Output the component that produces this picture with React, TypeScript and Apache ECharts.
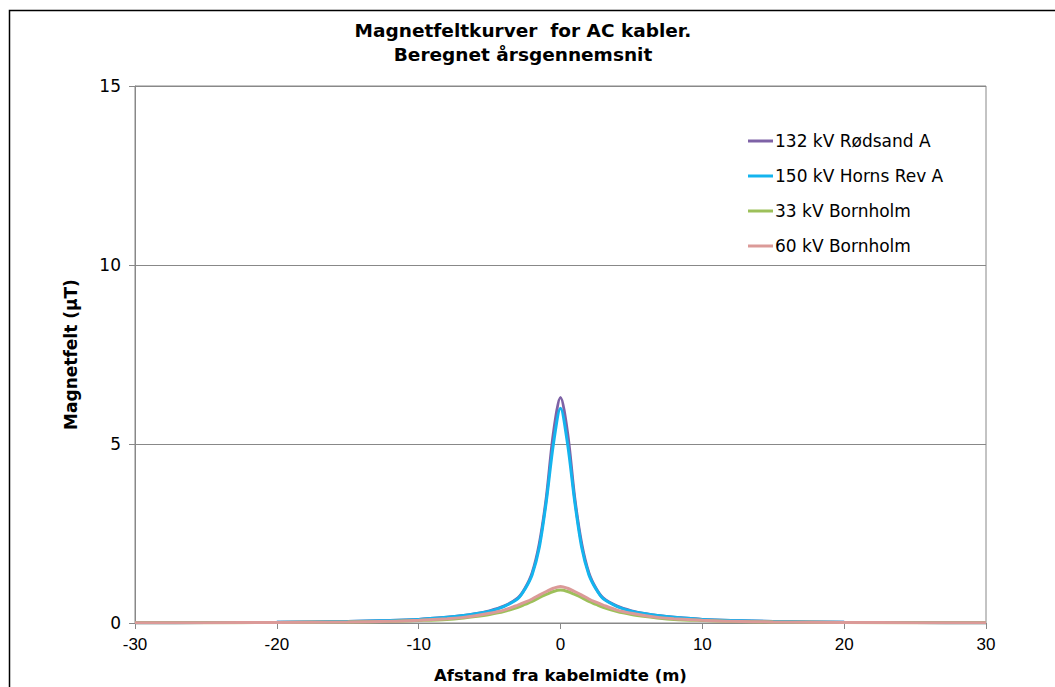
import React, { useEffect, useRef } from "react";
import * as echarts from "echarts";

const distances = [-30, -25, -20, -15, -12, -10, -8, -7, -6, -5, -4, -3, -2.5, -2, -1.5, -1, -0.5, 0, 0.5, 1, 1.5, 2, 2.5, 3, 4, 5, 6, 7, 8, 10, 12, 15, 20, 25, 30];

const rodsand132 = [0.008, 0.012, 0.02, 0.045, 0.07, 0.1, 0.16, 0.2, 0.26, 0.34, 0.47, 0.7, 0.97, 1.4, 2.2, 3.5, 5.3, 6.3, 5.3, 3.5, 2.2, 1.4, 0.97, 0.7, 0.47, 0.34, 0.26, 0.2, 0.16, 0.1, 0.07, 0.045, 0.02, 0.012, 0.008];
const hornsRev150 = [0.008, 0.012, 0.02, 0.045, 0.07, 0.1, 0.16, 0.2, 0.26, 0.33, 0.46, 0.68, 0.95, 1.35, 2.1, 3.4, 5.0, 6.0, 5.0, 3.4, 2.1, 1.35, 0.95, 0.68, 0.46, 0.33, 0.26, 0.2, 0.16, 0.1, 0.07, 0.045, 0.02, 0.012, 0.008];
const bornholm33 = [0.005, 0.008, 0.014, 0.028, 0.045, 0.07, 0.1, 0.13, 0.18, 0.24, 0.32, 0.44, 0.52, 0.6, 0.71, 0.8, 0.88, 0.92, 0.88, 0.8, 0.71, 0.6, 0.52, 0.44, 0.32, 0.24, 0.18, 0.13, 0.1, 0.07, 0.045, 0.028, 0.014, 0.008, 0.005];
const bornholm60 = [0.006, 0.01, 0.015, 0.03, 0.05, 0.08, 0.12, 0.15, 0.2, 0.27, 0.36, 0.5, 0.58, 0.67, 0.78, 0.88, 0.97, 1.02, 0.97, 0.88, 0.78, 0.67, 0.58, 0.5, 0.36, 0.27, 0.2, 0.15, 0.12, 0.08, 0.05, 0.03, 0.015, 0.01, 0.006];

const seriesNames = ["132 kV Rødsand A", "150 kV Horns Rev A", "33 kV Bornholm", "60 kV Bornholm"];
const seriesColors = ["#7E62A6", "#14B4EE", "#9DC05A", "#DB9A98"];
const seriesValues = [rodsand132, hornsRev150, bornholm33, bornholm60];

const titleLines = ["Magnetfeltkurver  for AC kabler.", "Beregnet årsgennemsnit"];
const xAxisName = "Afstand fra kabelmidte (m)";
const yAxisName = "Magnetfelt (µT)";

export default function App() {
  const ref = useRef<HTMLDivElement>(null);
  useEffect(() => {
    if (!ref.current) return;
    const chart = echarts.init(ref.current, null, { renderer: "svg" });
    const verdana = "DejaVu Sans, Verdana, sans-serif";
    const narrow = "Liberation Sans Narrow, Liberation Sans, Arial, sans-serif";
    chart.setOption({
      animation: false,
      backgroundColor: "#ffffff",
      title: {
        text: titleLines.join("\n"),
        left: 523,
        textAlign: "center",
        top: 18,
        padding: 0,
        textStyle: { fontFamily: verdana, fontSize: 18.5, fontWeight: "bold", color: "#000", lineHeight: 24 },
      },
      graphic: [
        {
          type: "rect",
          shape: { x: 9.5, y: 10.5, width: 1100, height: 700 },
          style: { fill: "none", stroke: "#000", lineWidth: 1.5 },
          silent: true,
        },
      ],
      legend: {
        orient: "vertical",
        left: 748,
        top: 131,
        padding: 0,
        itemWidth: 25,
        itemHeight: 3,
        itemGap: 15,
        icon: "rect",
        data: seriesNames,
        textStyle: { fontFamily: verdana, fontSize: 17, color: "#000", lineHeight: 20, padding: [0, 0, 0, -3] },
      },
      grid: {
        left: 135,
        right: 69,
        top: 86,
        bottom: 64,
        outerBoundsMode: "none",
        containLabel: false,
        show: true,
        borderColor: "#888",
        borderWidth: 1,
      },
      xAxis: {
        type: "value",
        min: -30,
        max: 30,
        interval: 10,
        name: xAxisName,
        nameLocation: "middle",
        nameGap: 44,
        nameTextStyle: { fontFamily: verdana, fontSize: 16.5, fontWeight: "bold", color: "#000" },
        axisLine: { show: true, onZero: false, lineStyle: { color: "#888" } },
        axisTick: { show: true, length: 6, lineStyle: { color: "#888" } },
        axisLabel: { fontFamily: narrow, fontSize: 17, color: "#000", margin: 13 },
        splitLine: { show: false },
      },
      yAxis: {
        type: "value",
        min: 0,
        max: 15,
        interval: 5,
        name: yAxisName,
        nameLocation: "middle",
        nameGap: 56,
        nameRotate: 90,
        nameTextStyle: { fontFamily: verdana, fontSize: 17, fontWeight: "bold", color: "#000" },
        axisLine: { show: true, onZero: false, lineStyle: { color: "#888" } },
        axisTick: { show: true, length: 6, lineStyle: { color: "#888" } },
        axisLabel: { fontFamily: verdana, fontSize: 17, color: "#000", margin: 14 },
        splitLine: { show: true, lineStyle: { color: "#888", width: 1 } },
      },
      series: seriesNames.map((name, i) => ({
        name,
        type: "line",
        smooth: 0.3,
        showSymbol: false,
        symbol: "none",
        data: distances.map((d, j) => [d, seriesValues[i][j]]),
        lineStyle: { color: seriesColors[i], width: 3 },
        itemStyle: { color: seriesColors[i] },
        z: 2 + i,
      })),
    });
    return () => chart.dispose();
  }, []);
  return (
    <div
      ref={ref}
      style={{ position: "absolute", left: 0, top: 0, width: 1055, height: 687 }}
    />
  );
}
